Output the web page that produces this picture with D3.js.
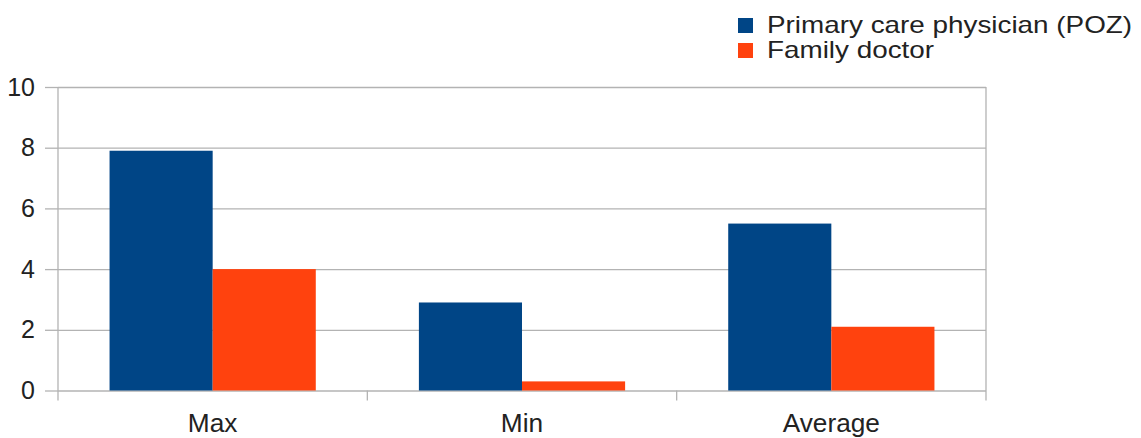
<!DOCTYPE html>
<html>
<head>
<meta charset="utf-8">
<script src="https://cdn.jsdelivr.net/npm/d3@7"></script>
<style>
  html, body { margin: 0; padding: 0; background: #fff; }
  svg text { font-family: "Liberation Sans", Arial, sans-serif; fill: #222; }
</style>
</head>
<body>
<svg id="chart" width="1141" height="438"></svg>
<script>
// Waiting-time comparison: two series across three statistics
const categories = ["Max", "Min", "Average"];
const seriesNames = ["Primary care physician (POZ)", "Family doctor"];
const pozValues = [7.9, 2.9, 5.5];
const familyValues = [4.0, 0.3, 2.1];
const yTicks = [0, 2, 4, 6, 8, 10];
const colors = ["#004586", "#ff420e"];

const svg = d3.select("#chart");
const plot = { left: 58, right: 986, top: 87, bottom: 390.5 };

const x = d3.scaleBand().domain(categories).range([plot.left, plot.right]).paddingInner(0).paddingOuter(0);
const inner = d3.scaleBand().domain(seriesNames).range([0, x.bandwidth()]).paddingInner(0).paddingOuter(0.5);
const y = d3.scaleLinear().domain([0, 10]).range([plot.bottom, plot.top]);

const grid = "#b3b3b3";

// stretch text horizontally a little, as the labels are drawn wide
function widen(sel, k) {
  sel.each(function () {
    const w = this.getComputedTextLength();
    d3.select(this).attr("textLength", w * k).attr("lengthAdjust", "spacingAndGlyphs");
  });
}

// horizontal grid lines
svg.append("g")
  .attr("transform", `translate(${plot.left},0)`)
  .call(d3.axisLeft(y).tickValues(yTicks).tickSize(-(plot.right - plot.left)).tickFormat(""))
  .call(g => g.select(".domain").remove())
  .call(g => g.selectAll("line").attr("stroke", grid).attr("stroke-width", 1.3));

// y tick stubs and labels
const yAxis = svg.append("g")
  .attr("transform", `translate(${plot.left},0)`)
  .call(d3.axisLeft(y).tickValues(yTicks).tickSize(13).tickPadding(10).tickFormat(d3.format("d")));
yAxis.select(".domain").remove();
yAxis.selectAll("line").attr("stroke", grid).attr("stroke-width", 1.3);
yAxis.selectAll("text").style("font-size", "25px").attr("fill", "#222");

const series = [pozValues, familyValues];

// bars
categories.forEach((c, ci) => {
  series.forEach((vals, si) => {
    svg.append("rect")
      .attr("x", x(c) + inner(seriesNames[si]))
      .attr("y", y(vals[ci]))
      .attr("width", inner.bandwidth())
      .attr("height", y(0) - y(vals[ci]))
      .attr("fill", colors[si]);
  });
});

// vertical axis lines at both sides
[plot.left, plot.right].forEach(px => {
  svg.append("line")
    .attr("x1", px).attr("x2", px)
    .attr("y1", plot.top).attr("y2", plot.bottom + 10)
    .attr("stroke", grid).attr("stroke-width", 1.3);
});

// x axis: category boundary ticks and labels
categories.slice(1).forEach(c => {
  svg.append("line")
    .attr("x1", x(c)).attr("x2", x(c))
    .attr("y1", plot.bottom).attr("y2", plot.bottom + 10)
    .attr("stroke", grid).attr("stroke-width", 1.3);
});
svg.append("g").selectAll("text")
  .data(categories)
  .join("text")
  .attr("x", d => x(d) + x.bandwidth() / 2)
  .attr("y", 432)
  .attr("text-anchor", "middle")
  .style("font-size", "25px")
  .text(d => d)
  .call(widen, 1.05);

// legend
const legend = svg.append("g").attr("transform", "translate(738,18)");
seriesNames.forEach((name, i) => {
  const row = legend.append("g").attr("transform", `translate(0,${i * 25})`);
  row.append("rect").attr("width", 15).attr("height", 15).attr("fill", colors[i]);
  row.append("text").attr("x", 29).attr("y", 15).style("font-size", "24px").text(name).call(widen, 1.16);
});
</script>
</body>
</html>
